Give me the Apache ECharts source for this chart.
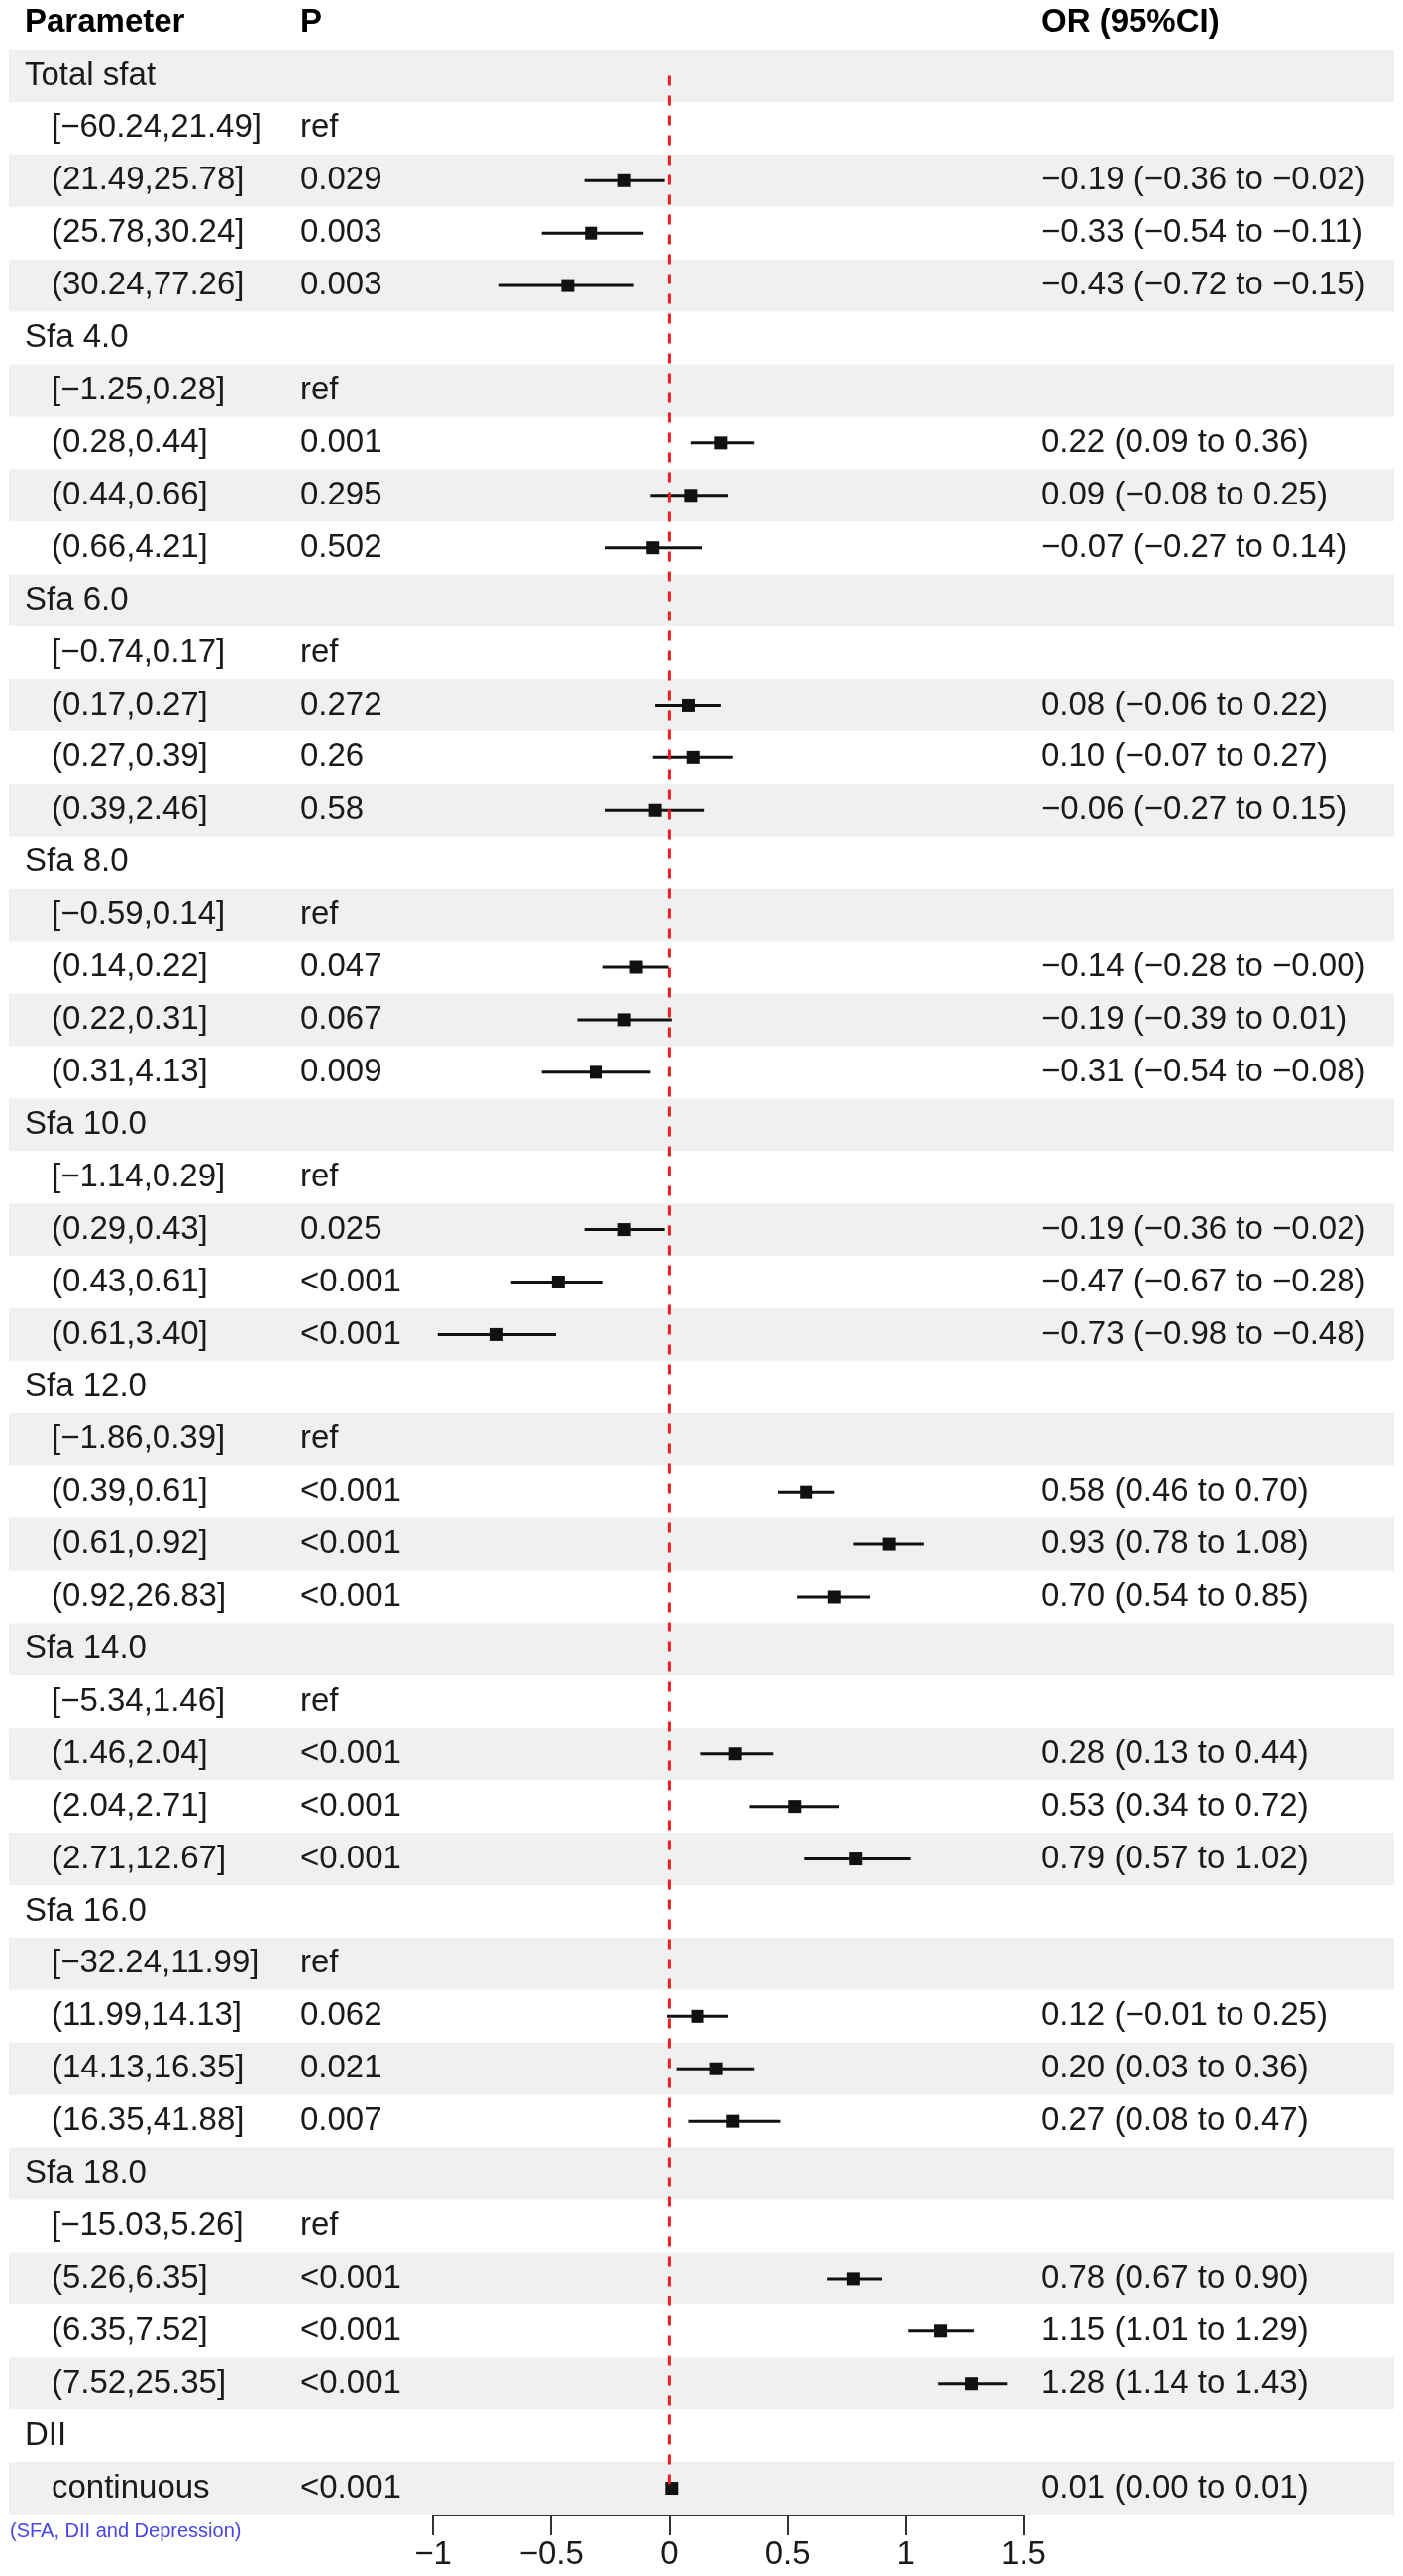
<!DOCTYPE html>
<html>
<head>
<meta charset="utf-8">
<script src="https://cdn.jsdelivr.net/npm/echarts@6/dist/echarts.min.js"></script>
<style>
html,body{margin:0;padding:0;background:#fff;}
#chart{width:1416px;height:2599px;}
</style>
</head>
<body>
<div id="chart"></div>
<script>
// ---------------- data ----------------
const rowLabels = [
  'Total sfat','[−60.24,21.49]','(21.49,25.78]','(25.78,30.24]','(30.24,77.26]',
  'Sfa 4.0','[−1.25,0.28]','(0.28,0.44]','(0.44,0.66]','(0.66,4.21]',
  'Sfa 6.0','[−0.74,0.17]','(0.17,0.27]','(0.27,0.39]','(0.39,2.46]',
  'Sfa 8.0','[−0.59,0.14]','(0.14,0.22]','(0.22,0.31]','(0.31,4.13]',
  'Sfa 10.0','[−1.14,0.29]','(0.29,0.43]','(0.43,0.61]','(0.61,3.40]',
  'Sfa 12.0','[−1.86,0.39]','(0.39,0.61]','(0.61,0.92]','(0.92,26.83]',
  'Sfa 14.0','[−5.34,1.46]','(1.46,2.04]','(2.04,2.71]','(2.71,12.67]',
  'Sfa 16.0','[−32.24,11.99]','(11.99,14.13]','(14.13,16.35]','(16.35,41.88]',
  'Sfa 18.0','[−15.03,5.26]','(5.26,6.35]','(6.35,7.52]','(7.52,25.35]',
  'DII','continuous'
];
const pValues = [
  '','ref','0.029','0.003','0.003',
  '','ref','0.001','0.295','0.502',
  '','ref','0.272','0.26','0.58',
  '','ref','0.047','0.067','0.009',
  '','ref','0.025','<0.001','<0.001',
  '','ref','<0.001','<0.001','<0.001',
  '','ref','<0.001','<0.001','<0.001',
  '','ref','0.062','0.021','0.007',
  '','ref','<0.001','<0.001','<0.001',
  '','<0.001'
];
const estimates = [
  null,null,-0.19,-0.33,-0.43,
  null,null,0.22,0.09,-0.07,
  null,null,0.08,0.10,-0.06,
  null,null,-0.14,-0.19,-0.31,
  null,null,-0.19,-0.47,-0.73,
  null,null,0.58,0.93,0.70,
  null,null,0.28,0.53,0.79,
  null,null,0.12,0.20,0.27,
  null,null,0.78,1.15,1.28,
  null,0.01
];
const lowerCI = [
  null,null,-0.36,-0.54,-0.72,
  null,null,0.09,-0.08,-0.27,
  null,null,-0.06,-0.07,-0.27,
  null,null,-0.28,-0.39,-0.54,
  null,null,-0.36,-0.67,-0.98,
  null,null,0.46,0.78,0.54,
  null,null,0.13,0.34,0.57,
  null,null,-0.01,0.03,0.08,
  null,null,0.67,1.01,1.14,
  null,0.00
];
const upperCI = [
  null,null,-0.02,-0.11,-0.15,
  null,null,0.36,0.25,0.14,
  null,null,0.22,0.27,0.15,
  null,null,-0.004,0.01,-0.08,
  null,null,-0.02,-0.28,-0.48,
  null,null,0.70,1.08,0.85,
  null,null,0.44,0.72,1.02,
  null,null,0.25,0.36,0.47,
  null,null,0.90,1.29,1.43,
  null,0.01
];
const headerTexts = ['Parameter','P','OR (95%CI)'];
const footnote = '(SFA, DII and Depression)';
const xAxisMin = -1, xAxisMax = 1.5, xAxisStep = 0.5;

// ---------------- layout ----------------
const W = 1416, H = 2599;
const TOP = 50, BOTTOM = 62;
const PLOT_LEFT = 437, PLOT_RIGHT = W - 1033;
const COL_GROUP = 25, COL_SUB = 52, COL_P = 303, COL_OR = 1051;
const STRIPE_L = 9, STRIPE_R = 1407;
const FONT = "'Liberation Sans', Arial, Helvetica, sans-serif";
const FS = 33;
const TXT = '#1a1a1a';

function fmt(v){
  const s = Math.abs(v).toFixed(2);
  return (v < 0 ? '−' : '') + s;
}
const orLabels = estimates.map((e,i)=> e === null ? '' :
  fmt(e) + ' (' + fmt(lowerCI[i]) + ' to ' + fmt(upperCI[i]) + ')');

const rowIdx = rowLabels.map((_,i)=>i);
const isGroup = pValues.map(p => p === '');

const forestData = [];
estimates.forEach((e,i)=>{ if(e!==null) forestData.push([lowerCI[i], upperCI[i], e, i]); });

const chart = echarts.init(document.getElementById('chart'), null, {width: W, height: H});

const option = {
  animation: false,
  backgroundColor: '#fff',
  grid: [
    {left: PLOT_LEFT, right: PLOT_RIGHT, top: TOP, bottom: BOTTOM},
    {left: 0, right: 0, top: TOP, bottom: BOTTOM}
  ],
  xAxis: [
    {
      gridIndex: 0, type: 'value', min: xAxisMin, max: xAxisMax, interval: xAxisStep,
      position: 'bottom',
      axisLine: {show: true, onZero: false, lineStyle: {color: '#333', width: 2}},
      axisTick: {show: true, length: 21, lineStyle: {color: '#333', width: 2}},
      splitLine: {show: false},
      axisLabel: {
        margin: 24, fontSize: FS, fontFamily: FONT, color: TXT,
        formatter: v => (v < 0 ? '−' + Math.abs(v) : String(v))
      }
    },
    {gridIndex: 1, type: 'value', min: 0, max: W, show: false}
  ],
  yAxis: [
    {gridIndex: 0, type: 'category', data: rowIdx, inverse: true, show: false},
    {gridIndex: 1, type: 'category', data: rowIdx, inverse: true, show: false}
  ],
  graphic: [
    {type: 'text', left: COL_GROUP, top: 6, style: {text: headerTexts[0], font: 'bold ' + FS + 'px ' + FONT, fill: '#000'}},
    {type: 'text', left: COL_P, top: 6, style: {text: headerTexts[1], font: 'bold ' + FS + 'px ' + FONT, fill: '#000'}},
    {type: 'text', left: COL_OR, top: 6, style: {text: headerTexts[2], font: 'bold ' + FS + 'px ' + FONT, fill: '#000'}},
    {type: 'text', left: 10, top: 2544, style: {text: footnote, font: '20px ' + FONT, fill: '#4646e6'}}
  ],
  series: [
    {
      // stripes + text table
      type: 'custom', xAxisIndex: 1, yAxisIndex: 1, z: 1,
      data: rowIdx.map(i => [i]),
      encode: {y: 0},
      renderItem: function(params, api){
        const i = api.value(0);
        const c = api.coord([0, i]);
        const h = api.size([0, 1])[1];
        const children = [];
        if (i % 2 === 0) {
          children.push({type: 'rect', shape: {x: STRIPE_L, y: c[1] - h/2, width: STRIPE_R - STRIPE_L, height: h},
            style: {fill: '#eff1f0'}});
        }
        const font = FS + 'px ' + FONT;
        children.push({type: 'text', x: isGroup[i] ? COL_GROUP : COL_SUB, y: c[1],
          style: {text: rowLabels[i], font: font, fill: TXT, verticalAlign: 'middle', align: 'left'}});
        if (pValues[i]) children.push({type: 'text', x: COL_P, y: c[1],
          style: {text: pValues[i], font: font, fill: TXT, verticalAlign: 'middle', align: 'left'}});
        if (orLabels[i]) children.push({type: 'text', x: COL_OR, y: c[1],
          style: {text: orLabels[i], font: font, fill: TXT, verticalAlign: 'middle', align: 'left'}});
        return {type: 'group', children: children};
      }
    },
    {
      // forest marks
      type: 'custom', xAxisIndex: 0, yAxisIndex: 0, z: 5,
      data: forestData,
      encode: {x: [0, 1, 2], y: 3},
      renderItem: function(params, api){
        const lo = api.coord([api.value(0), api.value(3)]);
        const hi = api.coord([api.value(1), api.value(3)]);
        const e = api.coord([api.value(2), api.value(3)]);
        const s = 13;
        return {type: 'group', children: [
          {type: 'line', shape: {x1: lo[0], y1: lo[1], x2: hi[0], y2: hi[1]}, style: {stroke: '#111', lineWidth: 3}},
          {type: 'rect', shape: {x: e[0] - s/2, y: e[1] - s/2, width: s, height: s}, style: {fill: '#111'}}
        ]};
      }
    },
    {
      // reference line at 0
      type: 'line', xAxisIndex: 0, yAxisIndex: 0, z: 10,
      data: [[0, 0], [0, rowLabels.length - 1]],
      symbol: 'none', silent: true,
      lineStyle: {color: '#ee1d23', width: 3, type: [10, 10]}
    }
  ]
};
chart.setOption(option);
</script>
</body>
</html>
